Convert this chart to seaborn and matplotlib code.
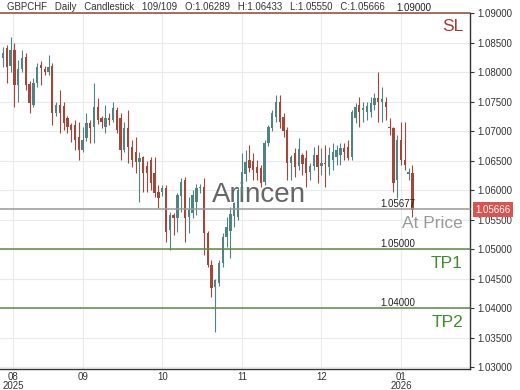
import numpy as np
import pandas as pd
import matplotlib
matplotlib.use("Agg")
import matplotlib.pyplot as plt
import seaborn as sns
from matplotlib.transforms import blended_transform_factory

# ---------------- data ----------------
opens = [1.0824, 1.0840, 1.0810, 1.0838, 1.0778, 1.0805, 1.0825, 1.0780, 1.0744, 1.0781,
         1.0812, 1.0805, 1.0800, 1.0810, 1.0731, 1.0745, 1.0742, 1.0722, 1.0710, 1.0710,
         1.0690, 1.0668, 1.0688, 1.0714, 1.0707, 1.0741, 1.0722, 1.0707, 1.0722, 1.0719,
         1.0736, 1.0722, 1.0668, 1.0705, 1.0673, 1.0665, 1.0647, 1.0656, 1.0640, 1.0651,
         1.0629, 1.0597, 1.0597, 1.0603, 1.0532, 1.0558, 1.0553, 1.0590, 1.0617, 1.0555,
         1.0561, 1.0580, 1.0603, 1.0605, 1.0527, 1.0473, 1.0436, 1.0442, 1.0476, 1.0520,
         1.0530, 1.0556, 1.0555, 1.0598, 1.0628, 1.0651, 1.0650, 1.0639, 1.0637, 1.0614,
         1.0680, 1.0705, 1.0724, 1.0749, 1.0724, 1.0702, 1.0646, 1.0663, 1.0640, 1.0660,
         1.0654, 1.0630, 1.0640, 1.0659, 1.0641, 1.0646, 1.0639, 1.0651, 1.0656, 1.0659,
         1.0671, 1.0673, 1.0656, 1.0722, 1.0744, 1.0736, 1.0733, 1.0732, 1.0744, 1.0756,
         1.0749, 1.0749, 1.0707, 1.0705, 1.0617, 1.0685, 1.0651, 1.0627, 1.06289]
highs = [1.0842, 1.0845, 1.0859, 1.0850, 1.0820, 1.0837, 1.0832, 1.0785, 1.0790, 1.0815,
         1.0818, 1.0810, 1.0829, 1.0815, 1.0750, 1.0769, 1.0750, 1.0726, 1.0714, 1.0719,
         1.0715, 1.0707, 1.0731, 1.0718, 1.0781, 1.0756, 1.0726, 1.0744, 1.0730, 1.0749,
         1.0740, 1.0730, 1.0715, 1.0736, 1.0685, 1.0690, 1.0665, 1.0658, 1.0650, 1.0656,
         1.0656, 1.0608, 1.0608, 1.0608, 1.0563, 1.0562, 1.0595, 1.0620, 1.0622, 1.0588,
         1.0600, 1.0610, 1.0610, 1.0620, 1.0530, 1.0481, 1.0450, 1.0481, 1.0527, 1.0554,
         1.0571, 1.0580, 1.0605, 1.0663, 1.0668, 1.0676, 1.0663, 1.0651, 1.0642, 1.0685,
         1.0710, 1.0736, 1.0761, 1.0761, 1.0730, 1.0707, 1.0659, 1.0671, 1.0688, 1.0663,
         1.0668, 1.0646, 1.0673, 1.0676, 1.0671, 1.0676, 1.0673, 1.0680, 1.0676, 1.0680,
         1.0680, 1.0685, 1.0736, 1.0747, 1.0758, 1.0749, 1.0749, 1.0758, 1.0764, 1.0800,
         1.0775, 1.0758, 1.0722, 1.0707, 1.0693, 1.0715, 1.0715, 1.0637, 1.06433]
lows = [1.0808, 1.0781, 1.0800, 1.0741, 1.0749, 1.0800, 1.0769, 1.0731, 1.0740, 1.0775,
        1.0778, 1.0795, 1.0795, 1.0710, 1.0725, 1.0697, 1.0702, 1.0697, 1.0681, 1.0668,
        1.0651, 1.0665, 1.0683, 1.0680, 1.0680, 1.0712, 1.0705, 1.0697, 1.0710, 1.0715,
        1.0697, 1.0651, 1.0664, 1.0646, 1.0639, 1.0629, 1.0580, 1.0597, 1.0597, 1.0600,
        1.0588, 1.0569, 1.0590, 1.0512, 1.0498, 1.0524, 1.0529, 1.0563, 1.0512, 1.0527,
        1.0553, 1.0558, 1.0595, 1.0490, 1.0470, 1.0419, 1.0359, 1.0438, 1.0470, 1.0503,
        1.0485, 1.0537, 1.0550, 1.0590, 1.0615, 1.0630, 1.0617, 1.0617, 1.0605, 1.0608,
        1.0675, 1.0700, 1.0715, 1.0705, 1.0690, 1.0617, 1.0617, 1.0622, 1.0634, 1.0625,
        1.0605, 1.0617, 1.0634, 1.0612, 1.0625, 1.0605, 1.0625, 1.0634, 1.0642, 1.0642,
        1.0651, 1.0651, 1.0651, 1.0714, 1.0707, 1.0715, 1.0719, 1.0724, 1.0736, 1.0715,
        1.0715, 1.0719, 1.0693, 1.0597, 1.0586, 1.0642, 1.0634, 1.0617, 1.05550]
closes = [1.0832, 1.0808, 1.0838, 1.0778, 1.0805, 1.0824, 1.0778, 1.0747, 1.0781, 1.0808,
          1.0807, 1.0800, 1.0808, 1.0731, 1.0744, 1.0730, 1.0714, 1.0707, 1.0702, 1.0685,
          1.0668, 1.0685, 1.0714, 1.0705, 1.0741, 1.0719, 1.0716, 1.0722, 1.0719, 1.0739,
          1.0702, 1.0668, 1.0705, 1.0673, 1.0651, 1.0647, 1.0655, 1.0629, 1.0629, 1.0612,
          1.0595, 1.0586, 1.0603, 1.0529, 1.0558, 1.0552, 1.0592, 1.0614, 1.0553, 1.0566,
          1.0592, 1.0603, 1.0605, 1.0527, 1.0473, 1.0434, 1.0447, 1.0476, 1.0520, 1.0537,
          1.0560, 1.0578, 1.0600, 1.0630, 1.0648, 1.0637, 1.0634, 1.0629, 1.0612, 1.0680,
          1.0707, 1.0731, 1.0749, 1.0715, 1.0700, 1.0646, 1.0656, 1.0639, 1.0670, 1.0645,
          1.0629, 1.0640, 1.0659, 1.0639, 1.0646, 1.0644, 1.0659, 1.0664, 1.0668, 1.0671,
          1.0664, 1.0654, 1.0732, 1.0741, 1.0732, 1.0739, 1.0742, 1.0747, 1.0756, 1.0749,
          1.0754, 1.0741, 1.0705, 1.0612, 1.0685, 1.0651, 1.0642, 1.0630, 1.05666]

month_labels = ["08\n2025", "09", "10", "11", "12", "01\n2026"]
month_start_idx = [2.6, 21, 42, 63, 84, 105]

price_ticks = [1.03, 1.035, 1.04, 1.045, 1.05, 1.055, 1.06, 1.065, 1.07, 1.075, 1.08, 1.085, 1.09]

level_names = ["SL", "At Price", "TP1", "TP2"]
level_values = [1.09000, 1.05677, 1.05000, 1.04000]

header = "GBPCHF   Daily   Candlestick   109/109   O:1.06289   H:1.06433   L:1.05550   C:1.05666"
watermark = "Arincen"

# ---------------- frame ----------------
df = pd.DataFrame({"open": opens, "high": highs, "low": lows, "close": closes})
df["idx"] = np.arange(len(df))
df["up"] = df["close"] >= df["open"]

sns.set_style("white")
plt.rcParams["font.family"] = ["Liberation Sans", "DejaVu Sans"]

W, H = 520, 390
fig = plt.figure(figsize=(W / 100, H / 100), dpi=100)
ax = fig.add_axes([0 / W, (H - 369) / H, 470 / W, (369 - 13) / H])

up_col = "#4f8483"
dn_col = "#a3473a"
cols = np.where(df["up"], up_col, dn_col)

# wicks
ax.vlines(df["idx"], df["low"], df["high"], colors=cols, lw=0.8, zorder=3)
# bodies
body_bot = np.minimum(df["open"], df["close"])
body_h = np.maximum(np.abs(df["close"] - df["open"]), 0.00008)
ax.bar(df["idx"], body_h, bottom=body_bot, width=0.62, color=cols, linewidth=0, zorder=4)

ax.set_xlim(-0.8, 123.2)
ax.set_ylim(1.0297, 1.0900)

# grid
ax.set_xticks(month_start_idx)
ax.set_xticklabels(month_labels, linespacing=0.85)
ax.set_yticks(price_ticks)
ax.set_yticklabels([f"{v:.5f}" for v in price_ticks])
ax.grid(True, color="#e9e9ee", lw=0.8, zorder=0)
ax.yaxis.tick_right()
ax.tick_params(axis="both", labelsize=7, colors="#333333", length=3, width=0.8, pad=2)
ax.tick_params(axis="x", pad=0.5, length=2)
for s in ["left", "top"]:
    ax.spines[s].set_visible(False)
for s in ["right", "bottom"]:
    ax.spines[s].set_color("#333333")
    ax.spines[s].set_linewidth(1.0)

# level lines
tr = blended_transform_factory(ax.transAxes, ax.transData)
line_cols = {"SL": "#8a4a3a", "At Price": "#9a9a9a", "TP1": "#5e8a45", "TP2": "#5e8a45"}
label_cols = {"SL": "#a8392e", "At Price": "#9a9a9a", "TP1": "#3f8d2f", "TP2": "#3f8d2f"}
for name, val in zip(level_names, level_values):
    ax.axhline(val, color=line_cols[name], lw=1.1, zorder=5, clip_on=False)
    num_x = 0.917 if name == "SL" else 0.884
    ax.text(num_x, val, f"{val:.5f}", transform=tr, ha="right", va="bottom",
            fontsize=7, color="#222222", zorder=6, clip_on=False)
    ax.text(0.985, val - 0.0011, name, transform=tr, ha="right", va="top",
            fontsize=12.5, color=label_cols[name], zorder=6)

# current price box
ax.text(1.012, closes[-1], f"{closes[-1]:.5f}", transform=tr, ha="left", va="center",
        fontsize=7, color="white", clip_on=False, zorder=7,
        bbox=dict(boxstyle="square,pad=0.25", fc="#d9534f", ec="none"))

# watermark
ax.text(0.55, 0.49, watermark, transform=ax.transAxes, ha="center", va="center",
        fontsize=20, color="#555555", alpha=0.9, zorder=2)

# header
fig.text(7 / W, 1 - 7 / H, header, ha="left", va="center", fontsize=6.9, color="#333333")

fig.savefig("out.png", dpi=100)
